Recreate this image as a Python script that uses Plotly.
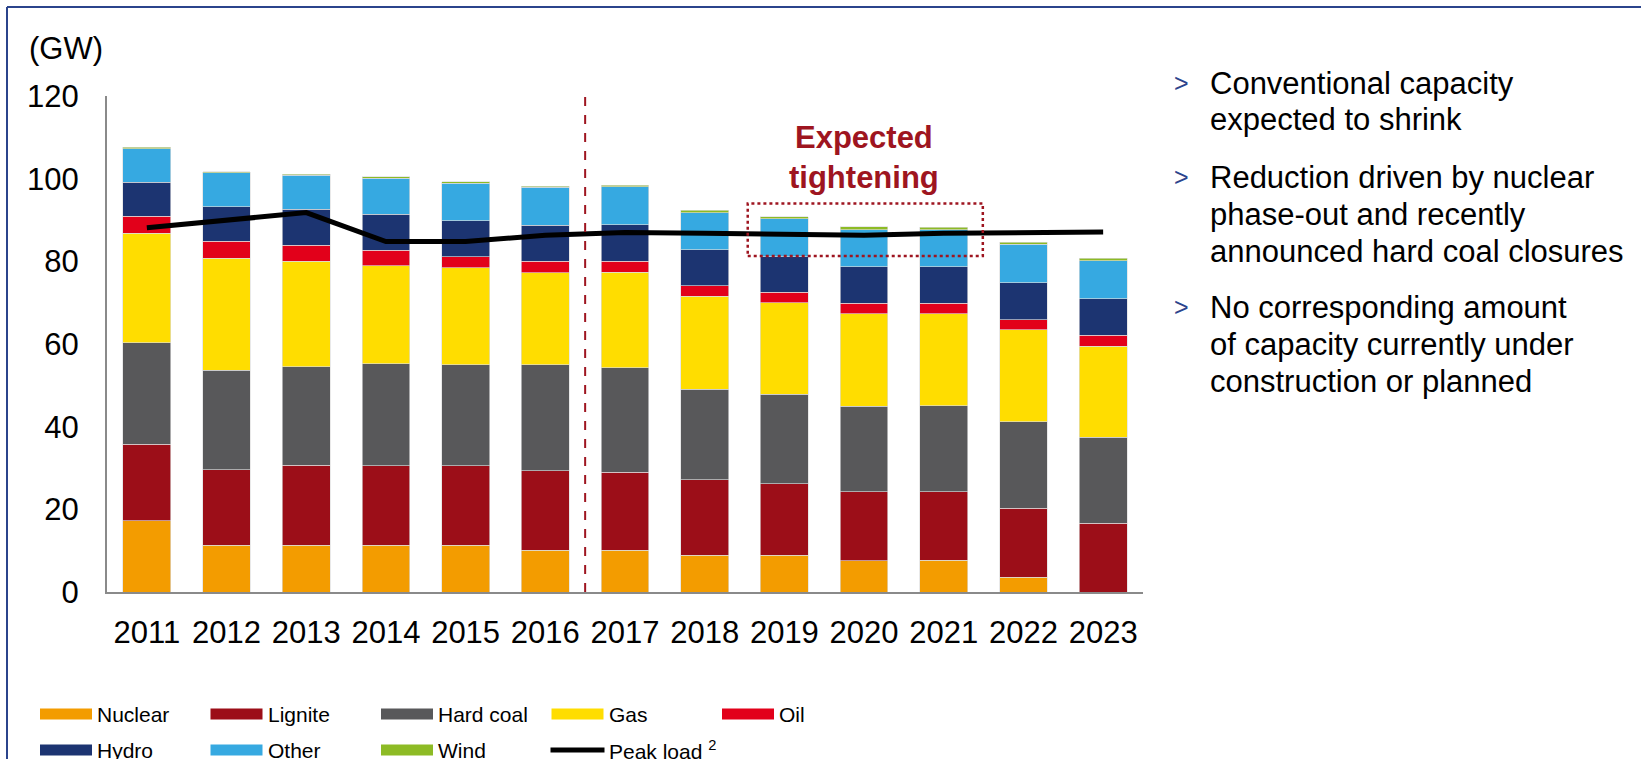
import plotly.graph_objects as go

# Installed capacity by source (GW) and peak load
years = ['2011', '2012', '2013', '2014', '2015', '2016', '2017',
         '2018', '2019', '2020', '2021', '2022', '2023']
nuclear = [17.2, 11.3, 11.3, 11.3, 11.3, 10.1, 10.1, 8.9, 8.9, 7.6, 7.7, 3.6, 0.0]
lignite = [18.6, 18.3, 19.4, 19.3, 19.3, 19.2, 18.9, 18.3, 17.3, 16.6, 16.5, 16.7, 16.6]
hard_coal = [24.5, 24.1, 23.8, 24.6, 24.4, 25.7, 25.2, 21.8, 21.7, 20.8, 20.9, 20.9, 20.8]
gas = [26.5, 27.0, 25.5, 23.7, 23.4, 22.2, 23.1, 22.6, 22.1, 22.3, 22.2, 22.2, 22.1]
oil = [4.1, 4.1, 3.9, 3.8, 2.7, 2.8, 2.7, 2.5, 2.5, 2.5, 2.5, 2.5, 2.6]
hydro = [8.2, 8.4, 8.7, 8.7, 8.7, 8.7, 8.8, 8.7, 8.6, 8.9, 8.9, 8.9, 8.9]
other = [8.1, 8.2, 8.2, 8.7, 9.1, 9.2, 9.2, 9.0, 9.2, 9.0, 8.9, 9.3, 9.1]
wind = [0.4, 0.3, 0.3, 0.4, 0.3, 0.3, 0.4, 0.6, 0.5, 0.7, 0.7, 0.5, 0.6]
peak_load = [88.1, 90.0, 91.8, 84.8, 84.8, 86.3, 87.0, 86.8, 86.5, 86.3, 86.8, 86.9, 87.1]

bullets = [
    ['Conventional capacity', 'expected to shrink'],
    ['Reduction driven by nuclear', 'phase-out and recently',
     'announced hard coal closures'],
    ['No corresponding amount', 'of capacity currently under',
     'construction or planned'],
]

FONT = 'Arial, Liberation Sans, sans-serif'
DARK_RED = '#9E1520'
NAVY = '#2B448C'

series = [
    ('Nuclear', nuclear, '#F39C00'),
    ('Lignite', lignite, '#9C0E18'),
    ('Hard coal', hard_coal, '#58585A'),
    ('Gas', gas, '#FFDD00'),
    ('Oil', oil, '#E2001A'),
    ('Hydro', hydro, '#1C3471'),
    ('Other', other, '#36A9E1'),
    ('Wind', wind, '#8DBB25'),
]

# plot area in pixels (used to place the extra slide elements)
L, R, T, B = 107, 506, 96, 167
W, H = 1649, 759
PW, PH = W - L - R, H - T - B


def px(x):
    return (x - L) / PW


def py(y):
    return (H - B - y) / PH


fig = go.Figure()
for name, vals, color in series:
    fig.add_bar(x=years, y=vals, name=name, marker_color=color,
                marker_line=dict(color='rgba(220,220,220,0.8)', width=0.8),
                showlegend=False)
fig.add_scatter(x=years, y=peak_load, mode='lines', name='Peak load',
                line=dict(color='black', width=5), showlegend=False)

shapes = []
annotations = []

# forecast divider and highlight box
shapes.append(dict(type='line', xref='x', yref='y', x0=5.5, x1=5.5, y0=0, y1=120,
                   line=dict(color=DARK_RED, width=2, dash='dash')))
shapes.append(dict(type='rect', xref='x', yref='y', x0=7.54, x1=10.49, y0=81.3, y1=94.0,
                   line=dict(color=DARK_RED, width=2.5, dash='dot')))
annotations.append(dict(x=9.0, y=105.2, xref='x', yref='y', showarrow=False,
                        text='<b>Expected</b><br><b>tightening</b>',
                        font=dict(family=FONT, size=31, color=DARK_RED)))

# slide frame
shapes.append(dict(type='line', xref='paper', yref='paper', x0=px(7), x1=px(1641),
                   y0=py(7), y1=py(7), line=dict(color=NAVY, width=2)))
shapes.append(dict(type='line', xref='paper', yref='paper', x0=px(7), x1=px(7),
                   y0=py(7), y1=py(759), line=dict(color=NAVY, width=2)))

annotations.append(dict(x=px(27), y=py(48), xref='paper', yref='paper', showarrow=False,
                        xanchor='left', yanchor='middle', text='(GW)',
                        font=dict(family=FONT, size=31, color='black')))

# bullet text on the right
block_tops = [83, 177, 307]
for top, lines in zip(block_tops, bullets):
    annotations.append(dict(x=px(1172), y=py(top), xref='paper', yref='paper',
                            showarrow=False, xanchor='left', yanchor='middle',
                            text='>', font=dict(family=FONT, size=25, color=NAVY)))
    for i, line in enumerate(lines):
        annotations.append(dict(x=px(1208), y=py(top + 37 * i), xref='paper',
                                yref='paper', showarrow=False, xanchor='left',
                                yanchor='middle', text=line,
                                font=dict(family=FONT, size=31, color='black')))

# custom legend with wide swatches
legend_items = [(n, c, 'bar') for n, _, c in series] + [('Peak load <sup>2</sup>', 'black', 'line')]
for k, (name, color, kind) in enumerate(legend_items):
    row, col = divmod(k, 5)
    x0 = 40 + col * 170.5
    yc = 714 + row * 36
    if kind == 'bar':
        shapes.append(dict(type='rect', xref='paper', yref='paper', x0=px(x0), x1=px(x0 + 52),
                           y0=py(yc - 5.5), y1=py(yc + 5.5), fillcolor=color,
                           line=dict(width=0)))
    else:
        shapes.append(dict(type='line', xref='paper', yref='paper', x0=px(x0 - 1), x1=px(x0 + 53),
                           y0=py(yc), y1=py(yc), line=dict(color=color, width=5)))
    annotations.append(dict(x=px(x0 + 55), y=py(yc), xref='paper', yref='paper',
                            showarrow=False, xanchor='left', yanchor='middle', text=name,
                            font=dict(family=FONT, size=21, color='black')))

fig.update_layout(
    barmode='stack',
    bargap=0.4,
    width=W,
    height=H,
    margin=dict(l=L, r=R, t=T, b=B, autoexpand=False),
    paper_bgcolor='white',
    plot_bgcolor='white',
    font=dict(family=FONT, size=31, color='black'),
    shapes=shapes,
    annotations=annotations,
    showlegend=False,
)
fig.update_xaxes(type='category', showline=True, linecolor='#8a8a8a', linewidth=2,
                 showgrid=False, ticks='', ticklabelstandoff=12, automargin=False,
                 tickfont=dict(family=FONT, size=31, color='black'))
fig.update_yaxes(range=[0, 120], dtick=20, showline=True, linecolor='#8a8a8a', linewidth=2,
                 showgrid=False, zeroline=False, ticks='', ticklabelstandoff=20,
                 automargin=False, tickfont=dict(family=FONT, size=31, color='black'))

# page body margin would push the figure 8px off the window corner
fig.write_html('out.html', config={'displayModeBar': False},
               post_script="document.body.style.margin='0';document.body.style.overflow='hidden';")
